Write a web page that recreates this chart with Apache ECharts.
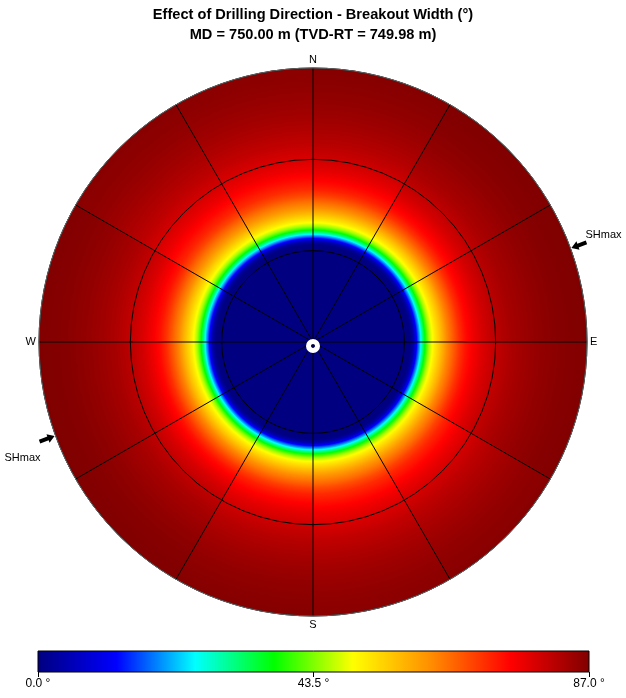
<!DOCTYPE html>
<html>
<head>
<meta charset="utf-8">
<script src="https://cdn.jsdelivr.net/npm/echarts@6/dist/echarts.min.js"></script>
<style>html,body{margin:0;padding:0;background:#fff}#c{width:626px;height:698px}</style>
</head>
<body>
<div id="c"></div>
<script>
// ---- data ----
const titleLines = ['Effect of Drilling Direction - Breakout Width (°)', 'MD = 750.00 m (TVD-RT = 749.98 m)'];
// inclination nodes (deg from vertical) at which the breakout width is read
const incNodes = [0,31,32,33,34,35,36,37,38,39,40,42,44,46,48,50,53,56,60,65,70,75,80,85,90];
// azimuth sectors (deg); each sector also applies to azimuth + 180
const sectorStarts = [0, 30, 60, 90, 120, 150];
const sectorWidth = 30;
// breakout width (deg) at each inclination node, one list per azimuth sector
const widthAz000 = [0,0,0.5,4,12,21,31,39,45,49,52,57,61.8,65.3,69,71.8,74.6,77,79.4,81.6,83.1,84.4,85.3,86,86.4];
const widthAz030 = [0,0,0.5,4,12,21,31,39,45,49,52,57,62.3,66.2,70,73,76,78.5,80.8,82.9,84.2,85.3,86.1,86.6,86.9];
const widthAz060 = [0,0,0.5,4,12,21,31,39,45,49,52,57,62.5,66.5,70.5,73.5,76.5,79,81.3,83.3,84.5,85.5,86.3,86.8,87];
const widthAz090 = [0,0,0.5,4,12,21,31,39,45,49,52,57,62.2,66,69.8,72.8,75.7,78.2,80.5,82.6,84,85.1,85.9,86.5,86.8];
const widthAz120 = [0,0,0.5,4,12,21,31,39,45,49,52,57,61.6,65,68.6,71.3,74,76.4,78.8,81.1,82.7,84,85,85.7,86.2];
const widthAz150 = [0,0,0.5,4,12,21,31,39,45,49,52,57,61.4,64.6,68.1,70.8,73.4,75.8,78.2,80.6,82.3,83.7,84.7,85.5,86];
const sectorWidths = [widthAz000, widthAz030, widthAz060, widthAz090, widthAz120, widthAz150];
const compassLabels = {0:'N', 90:'E', 180:'S', 270:'W'};
const shmaxAzimuths = [70, 250];
const wellPoint = [1.3, 180]; // [inclination, azimuth]
const widthMin = 0, widthMax = 87, widthTickStep = 43.5;
const palette = ['#000080','#0000ff','#00ffff','#00ff00','#ffff00','#ff8c00','#ff0000','#800000'];

// cells: [incStart, incEnd, widthStart, widthEnd, azStart, azEnd]; outer first so inner discs paint over
const fieldData = [];
sectorStarts.forEach((az, s) => {
  [az, az + 180].forEach(a0 => {
    for (let i = 0; i < incNodes.length - 1; i++) {
      fieldData.push([incNodes[i], incNodes[i+1], sectorWidths[s][i], sectorWidths[s][i+1], a0, a0 + sectorWidth]);
    }
  });
});
fieldData.sort((p, q) => q[1] - p[1]);

const paletteRgb = palette.map(h => [parseInt(h.slice(1,3),16), parseInt(h.slice(3,5),16), parseInt(h.slice(5,7),16)]);
function colorOf(v) {
  let t = (v - widthMin) / (widthMax - widthMin) * (palette.length - 1);
  t = Math.max(0, Math.min(palette.length - 1, t));
  const i = Math.min(palette.length - 2, Math.floor(t)), f = t - i;
  const a = paletteRgb[i], b = paletteRgb[i+1];
  return 'rgb(' + [0,1,2].map(k => Math.round(a[k] + (b[k]-a[k]) * f)).join(',') + ')';
}

const chart = echarts.init(document.getElementById('c'), null, {renderer: 'canvas'});
const font = 'Arial, "Liberation Sans", sans-serif';

function cellItem(params, api) {
  const c = api.coord([0, 0]);
  const p0 = api.coord([api.value(0), 0]);
  const p1 = api.coord([api.value(1), 0]);
  const r0 = Math.hypot(p0[0]-c[0], p0[1]-c[1]);
  const r1 = Math.hypot(p1[0]-c[0], p1[1]-c[1]);
  const w0 = api.value(2), w1 = api.value(3);
  const a0 = (api.value(4) - 90) * Math.PI / 180;
  const a1 = (api.value(5) - 90) * Math.PI / 180;
  const n = 6, stops = [];
  for (let k = 0; k <= n; k++) {
    stops.push({offset: (r0 + (r1 - r0) * k / n) / r1, color: colorOf(w0 + (w1 - w0) * k / n)});
  }
  return {
    type: 'sector',
    shape: {cx: c[0], cy: c[1], r0: 0, r: r1, startAngle: a0 - 0.004, endAngle: a1 + 0.004, clockwise: true},
    style: {fill: new echarts.graphic.RadialGradient(c[0], c[1], r1, stops, true)}
  };
}

function arrowItem(params, api) {
  const c = api.coord([0, 0]);
  const rim = api.coord([90, 0]);
  const R = Math.hypot(rim[0]-c[0], rim[1]-c[1]);
  const az = api.value(1) * Math.PI / 180;
  const ux = Math.sin(az), uy = -Math.cos(az);
  const vx = -uy, vy = ux;
  const P = (d, s) => [c[0] + ux*(R+d) + vx*s, c[1] + uy*(R+d) + vy*s];
  const pts = [P(1,0), P(8,4.5), P(8,2), P(17,2), P(17,-2), P(8,-2), P(8,-4.5)];
  const tail = P(17, 0);
  const right = ux > 0;
  return {
    type: 'group',
    children: [
      {type: 'polygon', shape: {points: pts}, style: {fill: '#000'}},
      {type: 'text', style: {
        text: 'SHmax', x: right ? tail[0] - 1 : tail[0] + 1, y: right ? tail[1] - 8 : tail[1] + 16,
        align: right ? 'left' : 'right', verticalAlign: 'middle',
        fill: '#000', font: '11px ' + font
      }}
    ]
  };
}

function barItem(params, api) {
  const a = api.coord([widthMin, 1]);
  const b = api.coord([widthMax, 0]);
  return {
    type: 'rect',
    shape: {x: a[0], y: a[1], width: b[0]-a[0], height: b[1]-a[1]},
    style: {
      fill: new echarts.graphic.LinearGradient(0, 0, 1, 0,
        palette.map((col, i) => ({offset: i/(palette.length-1), color: col}))),
      stroke: '#000', lineWidth: 1
    }
  };
}

chart.setOption({
  animation: false,
  backgroundColor: '#fff',
  title: {
    text: titleLines.join('\n'), left: 'center', top: 0,
    textStyle: {fontSize: 14.6, fontWeight: 'bold', color: '#000', fontFamily: font, lineHeight: 20}
  },
  polar: {center: [313, 342], radius: 274},
  angleAxis: {
    type: 'value', min: 0, max: 360, interval: 30, startAngle: 90, clockwise: true, z: 10,
    axisLine: {show: true, lineStyle: {color: '#666', width: 1}},
    axisTick: {show: false},
    axisLabel: {show: true, margin: 3, color: '#000', fontSize: 11, fontFamily: font,
      formatter: v => compassLabels[v] || ''},
    splitLine: {show: true, lineStyle: {color: '#000', width: 1}}
  },
  radiusAxis: {
    type: 'value', min: 0, max: 90, interval: 30, z: 10,
    axisLine: {show: false}, axisTick: {show: false}, axisLabel: {show: false},
    splitLine: {show: true, lineStyle: {color: '#000', width: 1}}
  },
  grid: {left: 38, width: 551, top: 651, height: 21},
  xAxis: {
    type: 'value', min: widthMin, max: widthMax, interval: widthTickStep,
    axisLine: {show: false},
    axisTick: {show: true, length: 5, lineStyle: {color: '#000'}},
    axisLabel: {margin: 6, color: '#000', fontSize: 12, fontFamily: font, formatter: v => v.toFixed(1) + ' °'},
    splitLine: {show: false}
  },
  yAxis: {type: 'value', min: 0, max: 1, show: false},
  series: [
    {type: 'custom', coordinateSystem: 'polar', renderItem: cellItem, data: fieldData, z: 1, silent: true},
    {type: 'scatter', coordinateSystem: 'polar', data: [wellPoint], symbol: 'circle', symbolSize: 9, z: 20,
      itemStyle: {color: 'rgba(0,0,0,0)', borderColor: '#fff', borderWidth: 5, opacity: 1}, silent: true},
    {type: 'custom', coordinateSystem: 'polar', renderItem: arrowItem, data: shmaxAzimuths.map(a => [90, a]), z: 20, silent: true},
    {type: 'custom', coordinateSystem: 'cartesian2d', renderItem: barItem, data: [[0, 0]], z: 5, silent: true}
  ]
});
</script>
</body>
</html>
